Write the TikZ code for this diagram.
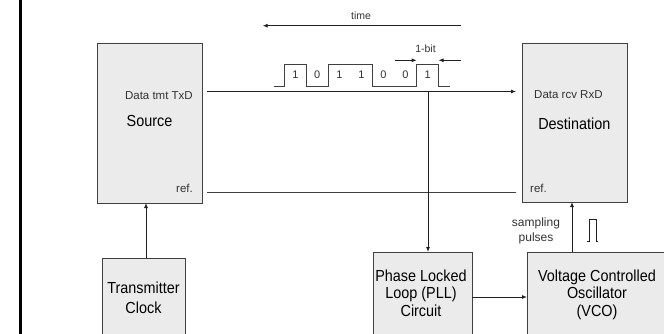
\documentclass[tikz,border=0pt]{standalone}
\usepackage{fontspec}
\setmainfont{Liberation Sans}
\newfontfamily\narrowsans[FakeStretch=0.9]{Liberation Sans}
\usetikzlibrary{arrows.meta,calc}
\definecolor{boxfill}{HTML}{EBEBEB}
\definecolor{boxline}{HTML}{404040}
\definecolor{labeltext}{HTML}{333333}
\definecolor{wire}{HTML}{202020}
\begin{document}
\begin{tikzpicture}[x=1pt,y=-1pt,
  blk/.style={draw=boxline,fill=boxfill,line width=0.9pt,inner sep=0pt,outer sep=0pt},
  ttl/.style={font=\narrowsans\fontsize{16}{17.5}\selectfont,align=center,inner sep=0pt,text=black},
  lbl/.style={font=\fontsize{11.5}{13}\selectfont,inner sep=0pt,text=labeltext},
  small/.style={font=\fontsize{10.5}{12}\selectfont,inner sep=0pt,text=labeltext},
  wireline/.style={draw=wire,line width=0.9pt},
  arr/.style={wireline,-{Latex[length=5pt,width=4pt]}}]
\fill[white] (0,0) rectangle (664,334);
\useasboundingbox (0,0) rectangle (664,334);
\clip (0,0) rectangle (664,334);

% frame line on the left
\coordinate (lt) at (20.5,0);
\coordinate (lb) at (20.5,334);
\draw[line width=2.2pt,black] (lt) -- (lb);

% blocks
\node[blk,minimum width=105pt,minimum height=160pt] (src) at (149.5,123) {};
\node[blk,minimum width=105pt,minimum height=159pt] (dst) at (574.5,122.5) {};
\node[blk,minimum width=83pt,minimum height=87pt] (tclk) at (143.5,301.5) {};
\node[blk,minimum width=99pt,minimum height=93pt] (pll) at (422.5,298.5) {};
\node[blk,minimum width=140pt,minimum height=93pt] (vco) at (597,298.5) {};

% texts inside the blocks
\node[lbl,anchor=east] (txdlbl) at (193,96) {Data tmt TxD};
\node[ttl] (srcttl) at (149.5,120.5) {Source};
\node[lbl,anchor=east] (srcref) at (193,188) {ref.};
\node[lbl,anchor=west] (rxdlbl) at (534,94.5) {Data rcv RxD};
\node[ttl] (dstttl) at (574.3,123.5) {Destination};
\node[lbl,anchor=west] (dstref) at (530,188.5) {ref.};
\node[ttl,anchor=north,font=\narrowsans\fontsize{16}{20}\selectfont] (tclkttl) at (143.5,281.5) {Transmitter\\Clock};
\node[ttl,anchor=north] (pllttl) at (421,269.5) {Phase Locked\\Loop (PLL)\\Circuit};
\node[ttl,anchor=north] (vcottl) at (597,269.5) {Voltage Controlled\\Oscillator\\(VCO)};

% data and reference lines
\coordinate (txd) at (207,91.5);
\coordinate (rxd) at (516,91.5);
\coordinate (tap) at (428,91.5);
\coordinate (refa) at (207,192);
\coordinate (refb) at (516,192);
\draw[arr] (txd) -- (rxd);
\draw[wireline,draw=boxline] (refa) -- (refb);
\draw[arr] (tap) -- (tap |- pll.north);

% clock paths
\draw[arr] ([xshift=-3.5pt]src.south |- tclk.north) -- ([xshift=-3.5pt]src.south);
\draw[arr] ([yshift=1.5pt]pll.east) -- ([yshift=1.5pt]pll.east -| vco.west);
\draw[arr] ([xshift=-2.5pt]dst.south |- vco.north) -- ([xshift=-2.5pt]dst.south);

% sampling pulses
\node[lbl,anchor=north,align=center,font=\fontsize{12}{15.5}\selectfont] (samp) at (536,217.5) {sampling\\pulses};
\draw[wireline] (587,241) -- (589,241) -- (589,219) -- (596,219) -- (596,241) -- (598,241);

% time axis
\coordinate (tr) at (461,25.7);
\coordinate (tl) at (262.7,25.7);
\draw[arr] (tr) -- (tl);
\node[small] (timelbl) at (361,15.5) {time};

% serial bit stream
\draw[wireline,draw=boxline] (274,86.5) -- (284.5,86.5) -- (284.5,64.3) -- (306.3,64.3) -- (306.3,86.5)
  -- (328.3,86.5) -- (328.3,64.3) -- (372.5,64.3) -- (372.5,86.5) -- (416.7,86.5) -- (416.7,64.3)
  -- (438.5,64.3) -- (438.5,86.5) -- (450,86.5);
\foreach \bx/\bv [count=\i] in {295.4/1,317.3/0,339.4/1,361.4/1,383.5/0,405.5/0,427.6/1}
  \node[lbl,font=\fontsize{11}{12}\selectfont] (bit\i) at (\bx,75) {\bv};

% one bit period
\node[small] (bitlbl) at (425.5,48.3) {1-bit};
\coordinate (ba) at (395,60.3);
\coordinate (bb) at (416.7,60.3);
\coordinate (bc) at (461,60.3);
\coordinate (bd) at (438.5,60.3);
\draw[arr] (ba) -- (bb);
\draw[arr] (bc) -- (bd);
\end{tikzpicture}
\end{document}
